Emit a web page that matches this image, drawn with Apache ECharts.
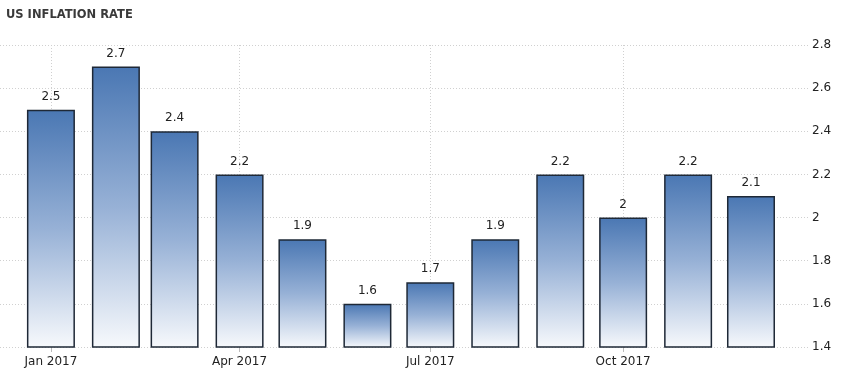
<!DOCTYPE html>
<html>
<head>
<meta charset="utf-8">
<script src="https://cdn.jsdelivr.net/npm/echarts@6/dist/echarts.min.js"></script>
<style>
html,body{margin:0;padding:0;background:#fff;}
#chart{width:850px;height:376px;}
</style>
</head>
<body>
<div id="chart"></div>
<script>
// Data
var title = 'US INFLATION RATE';
var months = ['2017-01','2017-02','2017-03','2017-04','2017-05','2017-06','2017-07','2017-08','2017-09','2017-10','2017-11','2017-12'];
var values = [2.5, 2.7, 2.4, 2.2, 1.9, 1.6, 1.7, 1.9, 2.2, 2.0, 2.2, 2.1];
var tickMonths = ['2017-01','2017-04','2017-07','2017-10'];
var monthNames = ['Jan','Feb','Mar','Apr','May','Jun','Jul','Aug','Sep','Oct','Nov','Dec'];

function toTs(s){ var p = s.split('-'); return Date.UTC(+p[0], +p[1]-1, 1); }
var DAY = 86400000;
var xMin = toTs('2017-01') - 24.3 * DAY;
var xMax = xMin + 385.5 * DAY;

var font = 'DejaVu Sans';
var chart = echarts.init(document.getElementById('chart'), null, {renderer:'canvas'});
chart.setOption({
  animation: false,
  backgroundColor: '#ffffff',
  title: {
    text: title, left: 1, top: 4,
    textStyle: {fontFamily: font, fontSize: 11.5, fontWeight: 'bold', color: '#3a3a3a'}
  },
  grid: {left: 0, right: 42, top: 45, bottom: 29, containLabel: false},
  xAxis: {
    type: 'value', min: xMin, max: xMax,
    axisLine: {show: false},
    axisTick: {show: true, length: 5, lineStyle: {color: '#bbb'}, customValues: tickMonths.map(toTs)},
    axisLabel: {
      customValues: tickMonths.map(toTs),
      fontFamily: font, fontSize: 12, color: '#222', margin: 9,
      formatter: function(v){ var d = new Date(v); return monthNames[d.getUTCMonth()] + ' ' + d.getUTCFullYear(); }
    },
    splitLine: {show: true, lineStyle: {color: '#d0d0d0', type: [1, 2], width: 1}}
  },
  yAxis: {
    type: 'value', position: 'right', min: 1.4, max: 2.8, interval: 0.2,
    axisLine: {show: false}, axisTick: {show: false},
    axisLabel: {fontFamily: font, fontSize: 12, color: '#222', margin: 4},
    splitLine: {show: true, lineStyle: {color: '#d0d0d0', type: [1, 2], width: 1}}
  },
  series: [{
    type: 'bar',
    data: months.map(function(m, i){ return [toTs(m), values[i]]; }),
    barWidth: 48,
    itemStyle: {
      color: new echarts.graphic.LinearGradient(0, 0, 0, 1, [
        {offset: 0, color: '#4a77b3'},
        {offset: 0.5, color: '#97b1d6'},
        {offset: 1, color: '#f7f9fc'}
      ]),
      borderColor: '#1e2836', borderWidth: 1.5, borderRadius: 0
    },
    label: {
      show: true, position: 'top', distance: 7,
      fontFamily: font, fontSize: 12, color: '#222',
      formatter: function(p){ return String(p.value[1]); }
    }
  }]
});
</script>
</body>
</html>
